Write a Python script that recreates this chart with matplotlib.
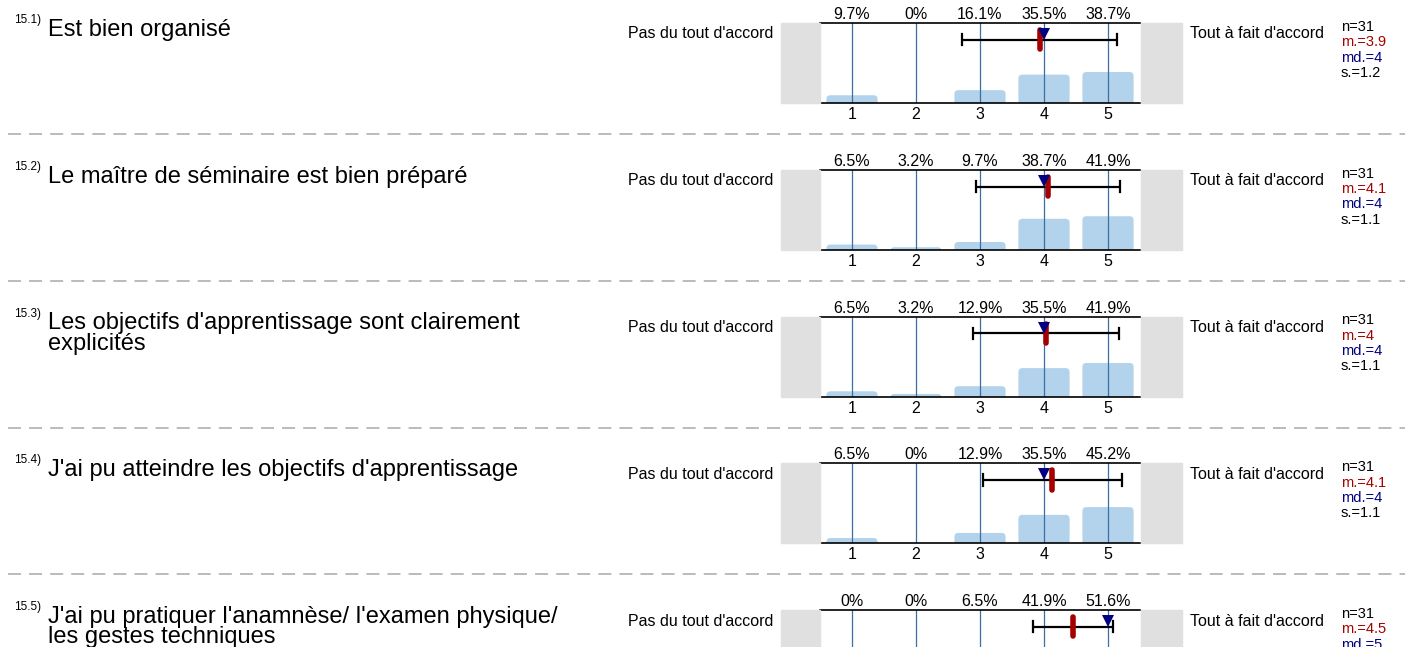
import matplotlib
matplotlib.use("Agg")
import matplotlib.pyplot as plt
from matplotlib.patches import Rectangle, FancyBboxPatch
from matplotlib.lines import Line2D

plt.rcParams['font.family'] = ['Liberation Sans', 'DejaVu Sans']

# ---- data -------------------------------------------------------------
item_numbers = ["15.1)", "15.2)", "15.3)", "15.4)", "15.5)"]
questions = [
    "Est bien organisé",
    "Le maître de séminaire est bien préparé",
    "Les objectifs d'apprentissage sont clairement\nexplicités",
    "J'ai pu atteindre les objectifs d'apprentissage",
    "J'ai pu pratiquer l'anamnèse/ l'examen physique/\nles gestes techniques",
]
scale_points = [1, 2, 3, 4, 5]
percentages = [
    [9.7, 0, 16.1, 35.5, 38.7],
    [6.5, 3.2, 9.7, 38.7, 41.9],
    [6.5, 3.2, 12.9, 35.5, 41.9],
    [6.5, 0, 12.9, 35.5, 45.2],
    [0, 0, 6.5, 41.9, 51.6],
]
n_resp = [31, 31, 31, 31, 31]
means = [3.935, 4.065, 4.032, 4.129, 4.452]
medians = [4, 4, 4, 4, 5]
stdevs = [1.21, 1.124, 1.139, 1.088, 0.622]
left_label = "Pas du tout d'accord"
right_label = "Tout à fait d'accord"

# ---- layout (pixels) --------------------------------------------------
W, H = 1405, 647
fig = plt.figure(figsize=(W / 100, H / 100), dpi=100)


def fx(x):
    return x / W


def fy(y):
    return 1 - y / H


ROW0, ROW_STEP = 23.0, 146.75
AX_L, AX_R, AX_H = 820, 1140, 80

bar_color = "#b3d3ec"
grid_color = "#3b6ea5"
grey = "#e0e0e0"
mean_color = "#a50000"
median_color = "#000080"

for k in range(len(questions)):
    top = ROW0 + k * ROW_STEP
    bottom = top + AX_H

    # grey end blocks
    fig.patches.append(Rectangle((fx(781), fy(bottom)), fx(820) - fx(781), AX_H / H,
                                 transform=fig.transFigure, color=grey, zorder=0))
    fig.patches.append(Rectangle((fx(1141), fy(bottom)), fx(1182) - fx(1141), AX_H / H,
                                 transform=fig.transFigure, color=grey, zorder=0))

    ax = fig.add_axes([fx(AX_L), fy(bottom), (AX_R - AX_L) / W, AX_H / H])
    ax.set_xlim(0.5, 5.5)
    ax.set_ylim(0, 100)
    for s in ("left", "right"):
        ax.spines[s].set_visible(False)
    for s in ("top", "bottom"):
        ax.spines[s].set_linewidth(1.2)
        ax.spines[s].set_color("black")
    ax.set_yticks([])
    ax.set_xticks(scale_points)
    ax.set_xticklabels([str(v) for v in scale_points], fontsize=11.5)
    ax.tick_params(axis="x", length=0, pad=3)

    # bars with rounded tops
    rad_x = 0.0625
    aspect = 80.0
    for xv, p in zip(scale_points, percentages[k]):
        if p > 0:
            ax.add_patch(FancyBboxPatch((xv - 0.4, -6), 0.8, p + 6,
                                        boxstyle=f"round,pad=0,rounding_size={rad_x}",
                                        mutation_aspect=aspect,
                                        facecolor=bar_color, edgecolor="none", zorder=1))
        ax.text(xv, 101, f"{p:g}%", ha="center", va="bottom", fontsize=11.5,
                transform=ax.transData, clip_on=False)

    for xv in scale_points:
        ax.axvline(xv, color=grid_color, lw=0.9, zorder=2)

    # mean +/- sd whisker
    ey = 79
    lo, hi = means[k] - stdevs[k], means[k] + stdevs[k]
    ax.plot([lo, hi], [ey, ey], color="black", lw=1.6, zorder=3, solid_capstyle="butt")
    ax.plot([lo, lo], [ey - 7, ey + 7], color="black", lw=1.6, zorder=3)
    ax.plot([hi, hi], [ey - 7, ey + 7], color="black", lw=1.6, zorder=3)
    # mean marker
    ax.plot([means[k], means[k]], [ey - 12, ey + 12], color=mean_color, lw=4,
            solid_capstyle="round", zorder=4)
    # median marker
    ax.plot([medians[k]], [ey + 7], marker="v", markersize=8, color=median_color,
            markeredgewidth=0, zorder=5)

    # side labels
    fig.text(fx(773), fy(top + 11), left_label, ha="right", va="center", fontsize=11.5)
    fig.text(fx(1190), fy(top + 11), right_label, ha="left", va="center", fontsize=11.5)

    # statistics
    mtxt = f"{round(means[k], 1):g}"
    stats = [(f"n={n_resp[k]}", "black"), (f"m.={mtxt}", mean_color),
             (f"md.={medians[k]:g}", median_color), (f"s.={round(stdevs[k], 1):g}", "black")]
    for i, (t, c) in enumerate(stats):
        fig.text(fx(1341), fy(top + 4 + 15.3 * i), t, ha="left", va="center",
                 fontsize=10.5, color=c)

    # question text
    fig.text(fx(41), fy(top - 3), item_numbers[k], ha="right", va="center", fontsize=8.5)
    fig.text(fx(48), fy(top - 4), questions[k], ha="left", va="top",
             fontsize=17, linespacing=0.9)

    # separator
    if k < len(questions) - 1:
        sy = fy(top + 111)
        fig.lines.append(Line2D([fx(8), 1.0], [sy, sy], transform=fig.transFigure,
                                color="#a8a8a8", lw=1.1, linestyle=(0, (8.5, 5.3))))

fig.savefig("out.png", dpi=100)
